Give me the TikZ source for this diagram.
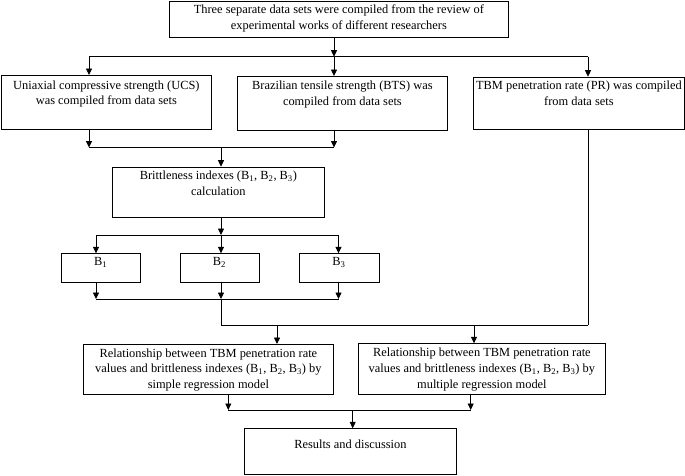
\documentclass[tikz,border=0pt]{standalone}
\usepackage{fontspec}
\setmainfont{Liberation Serif}
\usetikzlibrary{arrows.meta}
\begin{document}
\begin{tikzpicture}[x=1pt,y=-1pt,
  box/.style={draw, line width=0.8pt, inner sep=0pt, anchor=north west},
  txt/.style={anchor=north, inner sep=0pt, align=center, font=\fontsize{12.4}{15.8}\selectfont, yshift=-4.3pt},
  link/.style={line width=0.8pt},
  arr/.style={line width=0.8pt, -{Triangle[length=6.5pt,width=6pt]}}]
\useasboundingbox (0,0) rectangle (685,475);
% boxes
\node[box, minimum width=339pt, minimum height=36pt] (top) at (169,0.6) {};
\node[box, minimum width=210pt, minimum height=54pt] (ucs) at (1,75) {};
\node[box, minimum width=210pt, minimum height=54pt] (bts) at (237,76) {};
\node[box, minimum width=211pt, minimum height=52.6pt] (tbm) at (473,76.7) {};
\node[box, minimum width=212pt, minimum height=49.8pt] (brit) at (112,166.7) {};
\node[box, minimum width=78.5pt, minimum height=28.7pt] (b1) at (61,253.3) {};
\node[box, minimum width=79.2pt, minimum height=28.7pt] (b2) at (179.5,253.3) {};
\node[box, minimum width=80pt, minimum height=28.7pt] (b3) at (298.5,253.3) {};
\node[box, minimum width=250pt, minimum height=50pt] (rel1) at (83,344) {};
\node[box, minimum width=247pt, minimum height=50.7pt] (rel2) at (358,343.3) {};
\node[box, minimum width=212pt, minimum height=45.7pt] (res) at (244,428.3) {};
% texts
\node[txt] (topt) at (top.north) {Three separate data sets were compiled from the review of\\experimental works of different researchers};
\node[txt, yshift=-1pt] (ucst) at (ucs.north) {Uniaxial compressive strength (UCS)\\was compiled from data sets};
\node[txt, yshift=-0.5pt] (btst) at (bts.north) {Brazilian tensile strength (BTS) was\\compiled from data sets};
\node[txt] (tbmt) at (tbm.north) {TBM penetration rate (PR) was compiled\\from data sets};
\node[txt] (britt) at (brit.north) {Brittleness indexes (B\textsubscript{1}, B\textsubscript{2}, B\textsubscript{3})\\calculation};
\node[txt] (b1t) at (b1.north) {B\textsubscript{1}};
\node[txt] (b2t) at (b2.north) {B\textsubscript{2}};
\node[txt] (b3t) at (b3.north) {B\textsubscript{3}};
\node[txt] (rel1t) at (rel1.north) {Relationship between TBM penetration rate\\values and brittleness indexes (B\textsubscript{1}, B\textsubscript{2}, B\textsubscript{3}) by\\simple regression model};
\node[txt] (rel2t) at (rel2.north) {Relationship between TBM penetration rate\\values and brittleness indexes (B\textsubscript{1}, B\textsubscript{2}, B\textsubscript{3}) by\\multiple regression model};
\node[txt, yshift=-6.7pt] (rest) at (res.north) {Results and discussion};
% junctions
\coordinate (j1L) at (89,56.7);
\coordinate (j1) at (334,56.7);
\coordinate (j1R) at (588,56.7);
\coordinate (j2L) at (89,147.5);
\coordinate (j2) at (221,147.5);
\coordinate (j2R) at (334,147.5);
\coordinate (j3L) at (96,235);
\coordinate (j3) at (221,235);
\coordinate (j3R) at (338.5,235);
\coordinate (j4L) at (96,299);
\coordinate (j4) at (221,299);
\coordinate (j4R) at (338.5,299);
\coordinate (j5) at (221,325);
\coordinate (j5a) at (277,325);
\coordinate (j5b) at (474,325);
\coordinate (j5R) at (588,325);
\coordinate (j6L) at (228.3,410);
\coordinate (j6) at (352.7,410);
\coordinate (j6R) at (470.7,410);
% connectors
\draw[arr] (top.south -| j1) -- (j1);
\draw[link] (j1L) -- (j1R);
\draw[arr] (j1L) -- (j1L |- ucs.north);
\draw[arr] (j1) -- (j1 |- bts.north);
\draw[arr] (j1R) -- (j1R |- tbm.north);
\draw[arr] (ucs.south -| j2L) -- (j2L);
\draw[arr] (bts.south -| j2R) -- (j2R);
\draw[link] (j2L) -- (j2R);
\draw[arr] (j2) -- (j2 |- brit.north);
\draw[arr] (brit.south -| j3) -- (j3);
\draw[link] (j3L) -- (j3R);
\draw[arr] (j3L) -- (j3L |- b1.north);
\draw[arr] (j3) -- (j3 |- b2.north);
\draw[arr] (j3R) -- (j3R |- b3.north);
\draw[arr] (b1.south -| j4L) -- (j4L);
\draw[arr] (b2.south -| j4) -- (j4);
\draw[arr] (b3.south -| j4R) -- (j4R);
\draw[link] (j4L) -- (j4R);
\draw[link] (j4) -- (j5) -- (j5R);
\draw[link] (tbm.south -| j5R) -- (j5R);
\draw[arr] (j5a) -- (j5a |- rel1.north);
\draw[arr] (j5b) -- (j5b |- rel2.north);
\draw[arr] (rel1.south -| j6L) -- (j6L);
\draw[arr] (rel2.south -| j6R) -- (j6R);
\draw[link] (j6L) -- (j6R);
\draw[arr] (j6) -- (j6 |- res.north);
\end{tikzpicture}
\end{document}
